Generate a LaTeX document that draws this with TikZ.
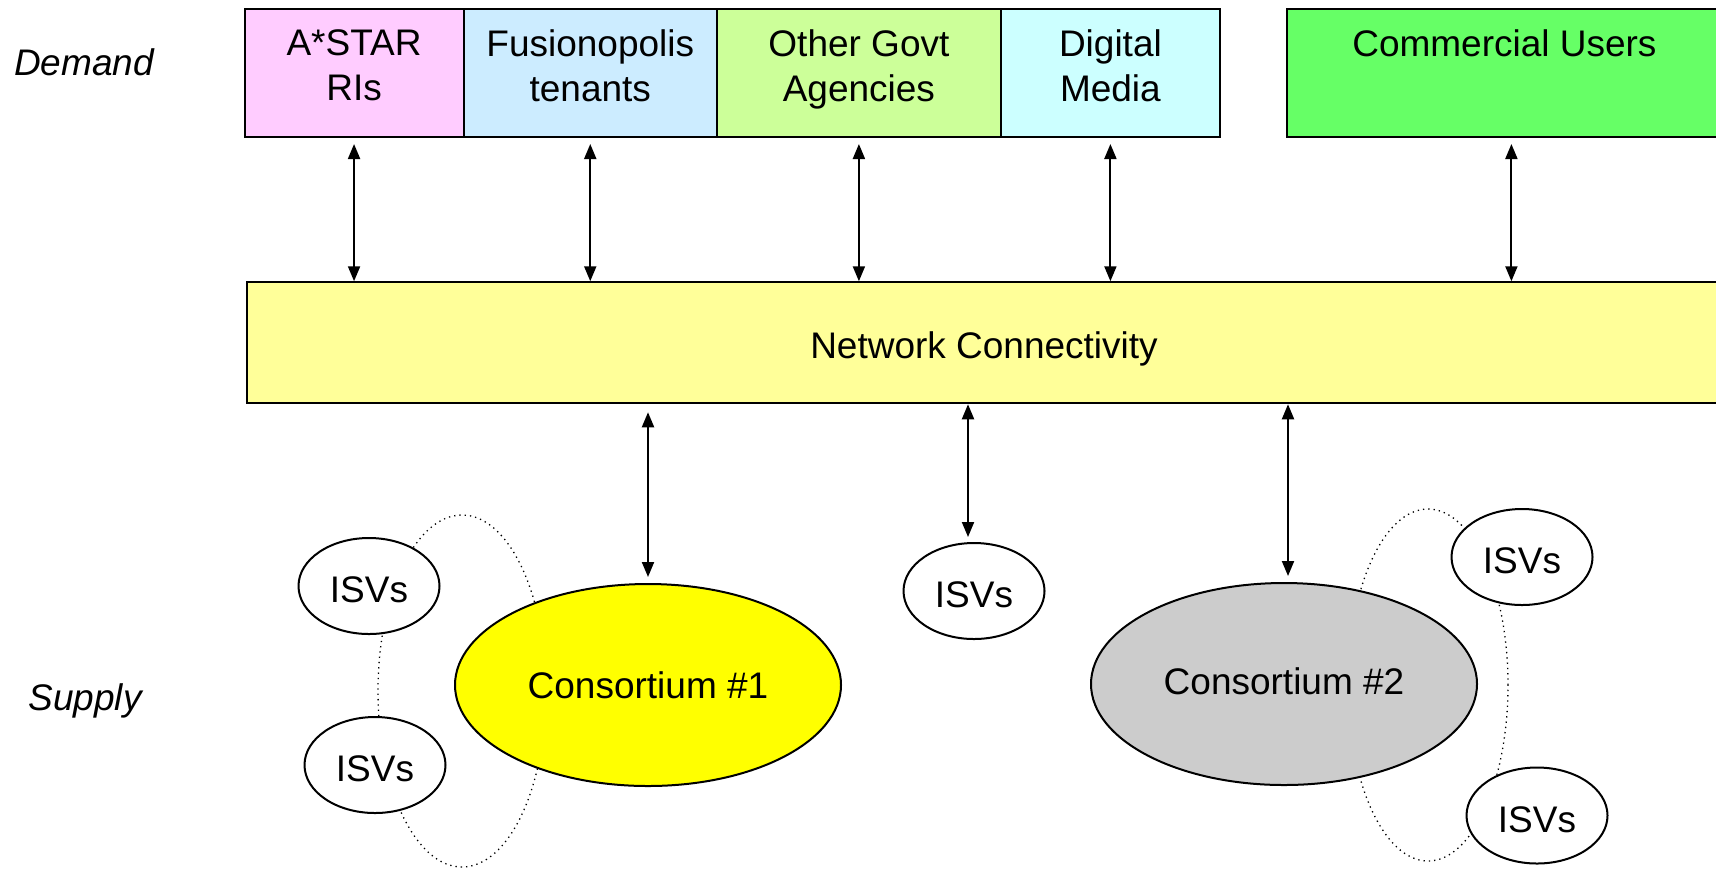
\documentclass[tikz,border=0pt]{standalone}
\usepackage{fontspec}
\setmainfont{Liberation Sans}
\usetikzlibrary{arrows.meta,shapes.geometric}
\definecolor{astarpink}{HTML}{FFCCFF}
\definecolor{fusionblue}{HTML}{CCECFF}
\definecolor{govtgreen}{HTML}{CCFF99}
\definecolor{mediacyan}{HTML}{CCFFFF}
\definecolor{commgreen}{HTML}{66FF66}
\definecolor{netyellow}{HTML}{FFFF99}
\definecolor{consyellow}{HTML}{FFFF00}
\definecolor{consgrey}{HTML}{CCCCCC}
\tikzset{
	txt/.style={font=\fontsize{18.5}{22.5}\selectfont},
	side/.style={txt,font=\itshape\fontsize{18.5}{22.5}\selectfont},
	ubox/.style={draw,line width=1pt,minimum height=64pt,inner sep=0pt,txt},
	utext/.style={anchor=north,align=center,inner sep=0pt,txt},
	link/.style={{Triangle[length=7.5pt,width=6pt]}-{Triangle[length=7.5pt,width=6pt]},line width=1pt},
	isv/.style={ellipse,draw,fill=white,line width=1pt,minimum width=70.5pt,minimum height=48pt,inner sep=0pt,text height=16.5pt,text depth=0pt,txt},
	cons/.style={ellipse,draw,line width=1pt,minimum width=193pt,minimum height=101pt,inner sep=0pt,txt},
	ring/.style={dotted,line width=0.65pt}
}
\begin{document}
\begin{tikzpicture}[x=0.5pt,y=-0.5pt]
	\useasboundingbox (0,0) rectangle (1716,869);
	\clip (0,0) rectangle (1716,869);

	\node [side] (demand) at (84,62) {Demand};
	\node [side] (supply) at (85,701) {Supply};

	\node [ubox,fill=astarpink,minimum width=109.45pt] (astar) at (354.05,73) {};
	\node [ubox,fill=fusionblue,minimum width=126.75pt] (fusion) at (590.25,73) {};
	\node [ubox,fill=govtgreen,minimum width=141.9pt] (govt) at (858.9,73) {};
	\node [ubox,fill=mediacyan,minimum width=109.6pt] (media) at (1110.4,73) {};
	\node [ubox,fill=commgreen,minimum width=217pt] (comm) at (1504.4,73) {};

	\node [utext] (astar-t) at ([yshift=-10.75pt]astar.north) {A*STAR\\RIs};
	\node [utext] (fusion-t) at ([yshift=-10.75pt]fusion.north) {Fusionopolis\\tenants};
	\node [utext] (govt-t) at ([yshift=-10.75pt]govt.north) {Other Govt\\Agencies};
	\node [utext] (media-t) at ([yshift=-10.75pt]media.north) {Digital\\Media};
	\node [utext] (comm-t) at ([yshift=-10.75pt]comm.north) {Commercial Users};

	\node [ubox,fill=netyellow,minimum width=737pt,minimum height=60.5pt,text height=19.5pt] (net) at (984,342.75) {Network Connectivity};

	\draw [link] ([yshift=-3pt]astar.south) -- (astar.south |- net.north);
	\draw [link] ([yshift=-3pt]fusion.south) -- (fusion.south |- net.north);
	\draw [link] ([yshift=-3pt]govt.south) -- (govt.south |- net.north);
	\draw [link] ([yshift=-3pt]media.south) -- (media.south |- net.north);
	\draw [link] ([yshift=-3pt,xshift=3.5pt]comm.south) -- ([xshift=3.5pt]comm.south |- net.north);

	\draw [ring] (462,691) ellipse [x radius=42pt,y radius=88pt];
	\draw [ring] (1428,685) ellipse [x radius=40pt,y radius=88pt];

	\node [isv] (isv-a) at (369,586) {ISVs};
	\node [isv] (isv-b) at (375,765) {ISVs};
	\node [isv] (isv-c) at (974,591) {ISVs};
	\node [isv] (isv-d) at (1522,557) {ISVs};
	\node [isv] (isv-e) at (1537,815.5) {ISVs};

	\node [cons,fill=consyellow] (cons1) at (648,685) {Consortium \#1};
	\node [cons,fill=consgrey] (cons2) at (1284,684) {\raisebox{3pt}{Consortium \#2}};

	\draw [link] ([yshift=-4pt]net.south -| cons1.north) -- ([yshift=3pt]cons1.north);
	\draw [link] ([xshift=-3pt]net.south -| isv-c.north) -- ([xshift=-3pt,yshift=2.5pt]isv-c.north);
	\draw [link] ([xshift=2pt]net.south -| cons2.north) -- ([xshift=2pt,yshift=3pt]cons2.north);
\end{tikzpicture}
\end{document}
